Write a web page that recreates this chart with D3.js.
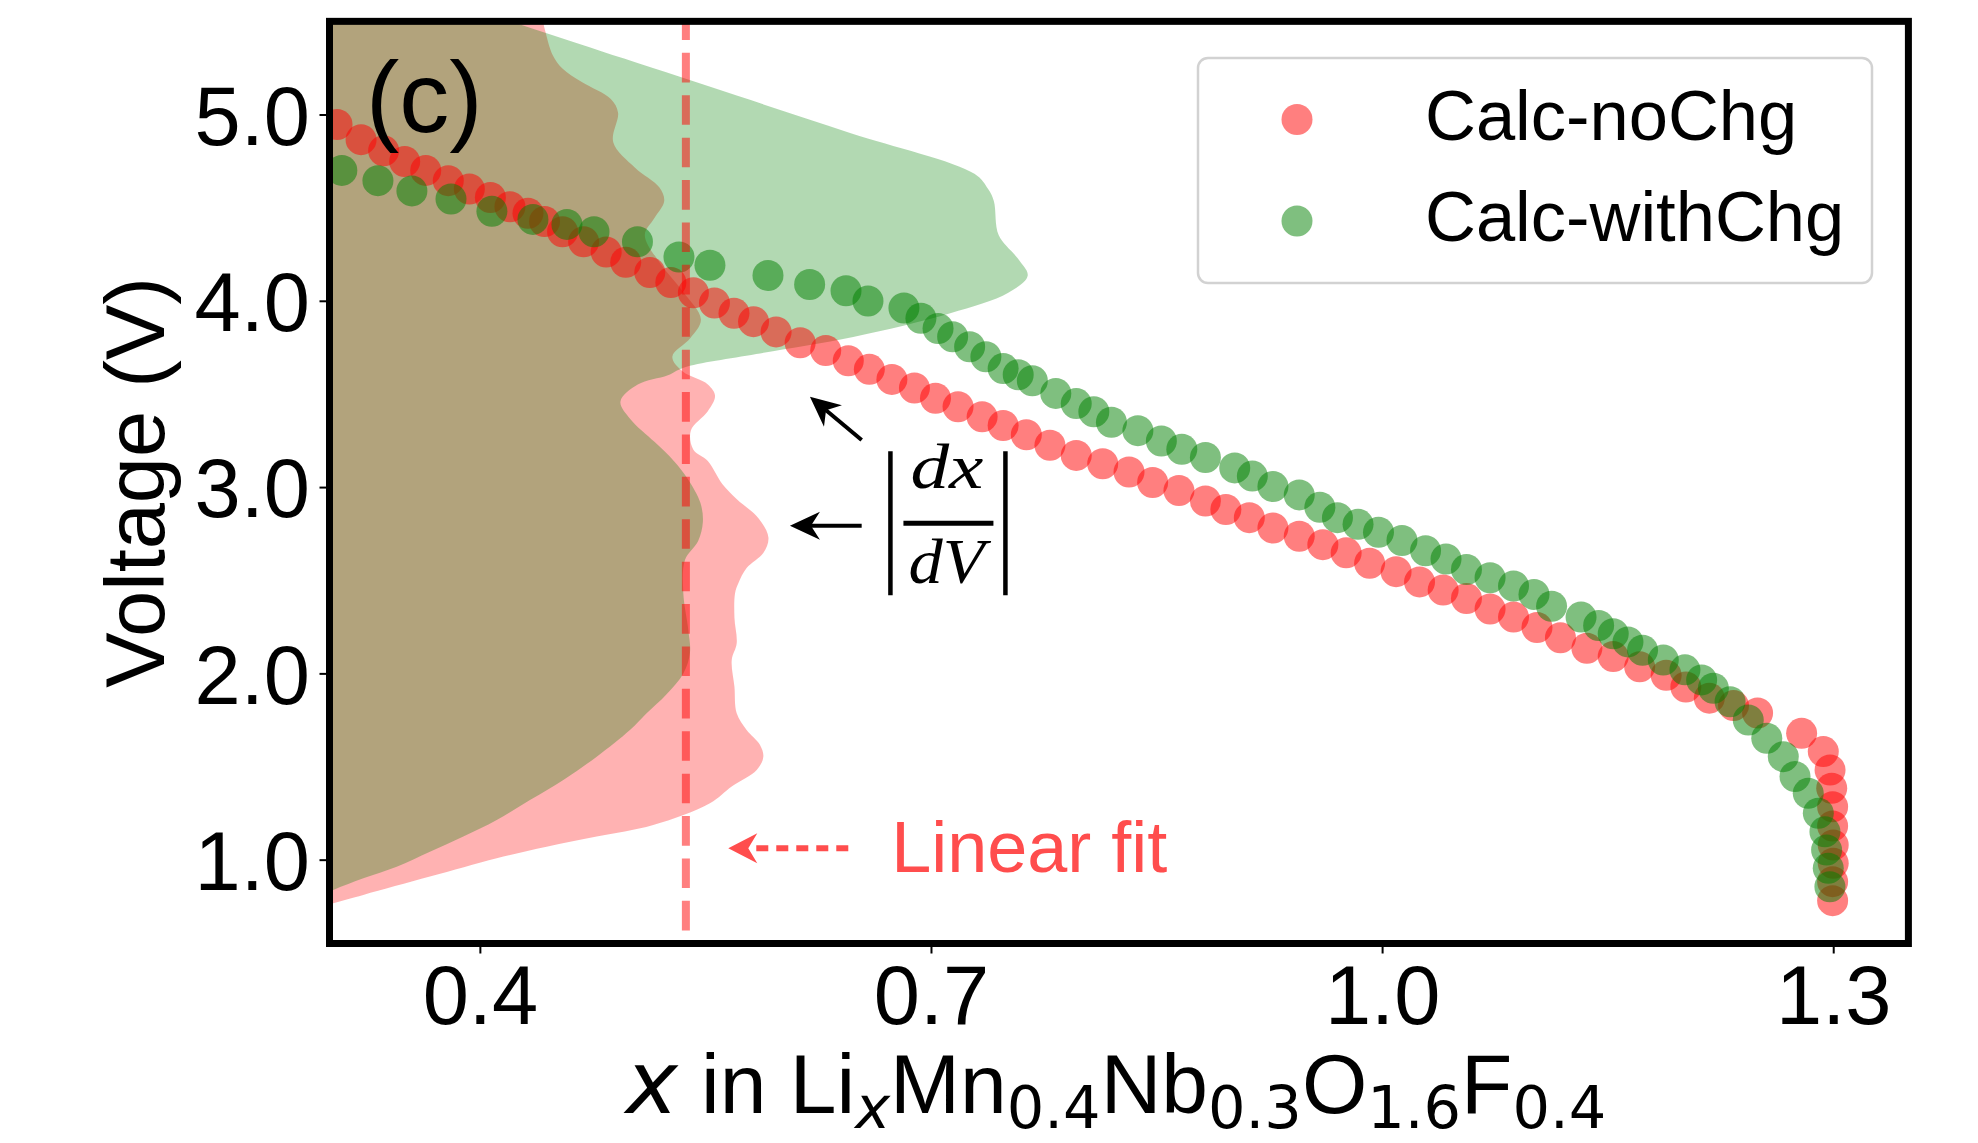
<!DOCTYPE html>
<html><head><meta charset="utf-8">
<script src="https://cdn.jsdelivr.net/npm/d3@7"></script>
<style>body{margin:0;background:#fff}svg{display:block}</style>
</head><body>
<svg id="chart" width="1978" height="1143"></svg>
<script>
// ---------------- data ----------------
const xDomain = [0.3, 1.35];
const vDomain = [0.55, 5.5];
const xTicks = [0.4, 0.7, 1.0, 1.3];
const yTicks = [1.0, 2.0, 3.0, 4.0, 5.0];
const seriesNames = ["Calc-noChg", "Calc-withChg"];

// Calc-noChg scatter (x, V)
const noChgX = [0.305,0.321,0.336,0.350,0.364,0.379,0.393,0.407,0.420,0.432,0.443,0.455,0.469,0.484,0.497,0.513,0.527,0.542,0.556,0.569,0.582,0.597,0.613,0.630,0.645,0.659,0.674,0.689,0.703,0.718,0.734,0.748,
  0.7634,0.7791,0.7966,0.8142,0.8317,0.8474,0.8649,0.8825,0.8961,0.9117,0.9274,0.9449,0.9606,0.9761,0.9917,1.0093,1.0249,1.0406,1.0561,1.0718,1.0874,1.1030,1.1186,1.1362,1.1537,1.1713,1.1889,
  1.2020,1.2176,1.2337,1.2497,1.2790,1.2934,1.2979,1.2990,1.2996,1.2996,1.3000,1.3000,1.2996,1.2996];
const noChgV = [4.946,4.865,4.805,4.748,4.700,4.645,4.600,4.554,4.505,4.470,4.426,4.371,4.317,4.262,4.207,4.152,4.098,4.043,3.988,3.933,3.888,3.833,3.775,3.733,3.678,3.632,3.578,3.532,3.477,3.431,3.377,3.331,
  3.281,3.225,3.170,3.125,3.081,3.025,2.981,2.925,2.880,2.836,2.780,2.736,2.691,2.647,2.591,2.546,2.491,2.447,2.402,2.346,2.302,2.246,2.191,2.135,2.090,2.035,1.990,
  1.927,1.867,1.827,1.787,1.678,1.580,1.481,1.383,1.284,1.181,1.079,0.981,0.882,0.780];

// Calc-withChg scatter (x, V)
const withChgX = [0.3082,0.3322,0.3548,0.3808,0.4080,0.4353,0.4579,0.4759,0.5048,0.5324,0.5530,0.5916,0.6193,0.6435,0.6581,0.6820,0.6933,0.7047,0.7144,0.7257,
  0.7365,0.7480,0.7580,0.7674,0.7830,0.7966,0.8083,0.8200,0.8376,0.8532,0.8668,0.8825,0.9020,0.9137,0.9274,0.9449,0.9586,0.9703,0.9840,0.9976,1.0132,1.0289,1.0425,1.0561,1.0718,1.0874,1.1010,1.1127,1.1323,1.1440,1.1537,1.1635,1.1732,
  1.1870,1.2014,1.2125,1.2203,1.2314,1.2435,1.2558,1.2668,1.2746,1.2834,1.2901,1.2945,1.2956,1.2967,1.2978];
const withChgV = [4.700,4.645,4.590,4.546,4.481,4.437,4.410,4.371,4.317,4.235,4.191,4.136,4.087,4.054,3.999,3.961,3.906,3.851,3.807,3.753,
  3.700,3.636,3.603,3.571,3.503,3.448,3.404,3.348,3.303,3.247,3.203,3.159,3.103,3.059,3.003,2.958,2.892,2.836,2.800,2.758,2.713,2.658,2.614,2.558,2.513,2.469,2.424,2.360,2.302,2.257,2.213,2.169,2.124,
  2.072,2.019,1.965,1.920,1.848,1.750,1.652,1.553,1.446,1.356,1.249,1.150,1.052,0.954,0.855];

// |dx/dV| profiles (right edge of the shaded areas), x position vs V
const noChgDistV = [5.60,5.503,5.454,5.32,5.247,5.174,5.083,5.010,4.851,4.714,4.609,4.536,4.444,4.353,4.20,4.05,3.90,3.80,3.70,3.62,3.551,3.490,3.407,3.304,3.202,3.140,3.017,2.935,2.832,2.730,2.647,2.565,2.484,2.430,2.298,2.162,2.072,1.928,1.786,1.696,1.616,1.553,1.481,1.394,1.303,1.186,1.124,1.070,1.008,0.909,0.811,0.766,0.70];
const noChgDistX = [0.441,0.442,0.4433,0.4484,0.4549,0.4678,0.4871,0.4919,0.4887,0.5032,0.5193,0.5226,0.5161,0.5097,0.520,0.535,0.547,0.540,0.528,0.535,0.5516,0.5564,0.5516,0.5403,0.5419,0.5516,0.5612,0.5709,0.5854,0.5919,0.5886,0.5774,0.5719,0.5697,0.5693,0.5708,0.5675,0.5693,0.5708,0.5774,0.5863,0.5885,0.5841,0.5677,0.553,0.5153,0.4777,0.4444,0.4112,0.3668,0.3225,0.3025,0.28];
const withChgDistV = [5.60,5.454,5.30,5.10,4.90,4.682,4.60,4.536,4.353,4.225,4.134,4.043,3.933,3.806,3.714,3.641,3.60,3.55,3.46,3.366,3.243,3.140,3.038,2.914,2.812,2.709,2.609,2.43,2.233,2.11,2.0,1.887,1.786,1.696,1.553,1.428,1.320,1.213,1.124,1.043,0.962,0.900,0.837,0.75];
const withChgDistX = [0.3827,0.4378,0.4959,0.5713,0.6467,0.7289,0.738,0.7418,0.745,0.7579,0.7643,0.7514,0.7128,0.6483,0.5838,0.5355,0.525,0.505,0.4935,0.500,0.5161,0.529,0.5387,0.5467,0.5483,0.5451,0.5364,0.5353,0.5386,0.5397,0.5353,0.524,0.5109,0.4998,0.4777,0.4555,0.4333,0.4112,0.389,0.3668,0.3447,0.3225,0.3025,0.28];

// linear-fit vertical line
const linearFitX = 0.537;
const linearFitV = [0.62, 5.6];

// ---------------- layout ----------------
const plot = {l: 329.5, r: 1908.4, t: 21.35, b: 943.5};
const SANS = "'Liberation Sans', Arial, Helvetica, sans-serif";
const svg = d3.select("#chart");
const x = d3.scaleLinear().domain(xDomain).range([plot.l, plot.r]);
const y = d3.scaleLinear().domain(vDomain).range([plot.b, plot.t]);

svg.append("defs").append("clipPath").attr("id", "clip")
  .append("rect").attr("x", plot.l).attr("y", plot.t)
  .attr("width", plot.r - plot.l).attr("height", plot.b - plot.t);

const g = svg.append("g").attr("clip-path", "url(#clip)");

const area = d3.area().curve(d3.curveCatmullRom.alpha(0.5))
  .y(d => y(d[1])).x0(x(0.2)).x1(d => x(d[0]));

g.append("path").datum(d3.zip(noChgDistX, noChgDistV)).attr("d", area)
  .attr("fill", "rgba(255,0,0,0.3)");
g.append("path").datum(d3.zip(withChgDistX, withChgDistV)).attr("d", area)
  .attr("fill", "rgba(0,128,0,0.3)");

const R = 15.5;
g.append("g").selectAll("circle").data(d3.zip(noChgX, noChgV)).join("circle")
  .attr("cx", d => x(d[0])).attr("cy", d => y(d[1])).attr("r", R)
  .attr("fill", "rgba(255,0,0,0.5)");
g.append("g").selectAll("circle").data(d3.zip(withChgX, withChgV)).join("circle")
  .attr("cx", d => x(d[0])).attr("cy", d => y(d[1])).attr("r", R)
  .attr("fill", "rgba(0,128,0,0.5)");

g.append("line")
  .attr("x1", x(linearFitX)).attr("x2", x(linearFitX))
  .attr("y1", y(linearFitV[0])).attr("y2", y(linearFitV[1]))
  .attr("stroke", "rgba(255,0,0,0.5)").attr("stroke-width", 8)
  .attr("stroke-dasharray", "29.6,12.8");

// ---------------- axes ----------------
const yAxis = svg.append("g").attr("transform", `translate(${plot.l},0)`)
  .call(d3.axisLeft(y).tickValues(yTicks).tickFormat(d3.format(".1f")).tickSize(10).tickPadding(9.5));
const xAxis = svg.append("g").attr("transform", `translate(0,${plot.b})`)
  .call(d3.axisBottom(x).tickValues(xTicks).tickFormat(d3.format(".1f")).tickSize(10).tickPadding(11.5));
[xAxis, yAxis].forEach(a => {
  a.select(".domain").remove();
  a.selectAll(".tick line").attr("stroke", "#000").attr("stroke-width", 2);
  a.selectAll(".tick text").attr("font-family", SANS).attr("font-size", 83).attr("fill", "#000");
});
yAxis.selectAll(".tick text").attr("dy", "0.36em");

svg.append("rect").attr("x", plot.l).attr("y", plot.t)
  .attr("width", plot.r - plot.l).attr("height", plot.b - plot.t)
  .attr("fill", "none").attr("stroke", "#000").attr("stroke-width", 7);

// axis titles
svg.append("text").attr("transform", `translate(164,${(plot.t + plot.b) / 2}) rotate(-90)`)
  .attr("text-anchor", "middle").attr("font-family", SANS).attr("font-size", 83)
  .text("Voltage (V)");

const xl = svg.append("text").attr("x", (plot.l + plot.r) / 2 - 3).attr("y", 1113)
  .attr("text-anchor", "middle").attr("font-family", SANS).attr("font-size", 84);
const SUB = 59, SHIFT = 15, DJ = "'DejaVu Sans', sans-serif";
xl.append("tspan").attr("font-family", DJ).attr("font-style", "italic").attr("font-size", 88).text("x");
xl.append("tspan").text(" in Li");
xl.append("tspan").attr("font-family", DJ).attr("font-style", "italic").attr("font-size", SUB).attr("dy", SHIFT).text("x");
xl.append("tspan").attr("dy", -SHIFT).text("Mn");
xl.append("tspan").attr("font-family", DJ).attr("font-size", SUB).attr("dy", SHIFT).text("0.4");
xl.append("tspan").attr("dy", -SHIFT).text("Nb");
xl.append("tspan").attr("font-family", DJ).attr("font-size", SUB).attr("dy", SHIFT).text("0.3");
xl.append("tspan").attr("dy", -SHIFT).text("O");
xl.append("tspan").attr("font-family", DJ).attr("font-size", SUB).attr("dy", SHIFT).text("1.6");
xl.append("tspan").attr("dy", -SHIFT).text("F");
xl.append("tspan").attr("font-family", DJ).attr("font-size", SUB).attr("dy", SHIFT).text("0.4");

// panel label
svg.append("text").attr("x", plot.l + 36.5).attr("y", 132)
  .attr("font-family", SANS).attr("font-size", 100).text("(c)");

// ---------------- legend ----------------
const lg = svg.append("g");
lg.append("rect").attr("x", 1198).attr("y", 58).attr("width", 674).attr("height", 225)
  .attr("rx", 10).attr("fill", "rgba(255,255,255,0.8)").attr("stroke", "#d2d2d2").attr("stroke-width", 2.5);
const legendColors = ["rgba(255,0,0,0.5)", "rgba(0,128,0,0.5)"];
seriesNames.forEach((name, i) => {
  const cy = 119.5 + i * 101.5;
  lg.append("circle").attr("cx", 1297).attr("cy", cy).attr("r", R).attr("fill", legendColors[i]);
  lg.append("text").attr("x", 1425).attr("y", cy + 20).attr("font-family", SANS)
    .attr("font-size", 70.5).text(name);
});

// ---------------- annotations ----------------
function arrowHead(tip, tail, len, notch, half) {
  const dx = tip[0] - tail[0], dy = tip[1] - tail[1], L = Math.hypot(dx, dy);
  const ux = dx / L, uy = dy / L, px = -uy, py = ux;
  const bx = tip[0] - ux * len, by = tip[1] - uy * len;
  const nx = tip[0] - ux * notch, ny = tip[1] - uy * notch;
  return {d: `M${tip[0]},${tip[1]}L${bx + px * half},${by + py * half}L${nx},${ny}L${bx - px * half},${by - py * half}Z`, nx, ny};
}
function arrow(tipD, tailD, color, opts) {
  const tip = [x(tipD[0]), y(tipD[1])], tail = [x(tailD[0]), y(tailD[1])];
  const h = arrowHead(tip, tail, opts.len, opts.notch, opts.half);
  const ln = svg.append("line").attr("x1", tail[0]).attr("y1", tail[1]).attr("x2", h.nx).attr("y2", h.ny)
    .attr("stroke", color).attr("stroke-width", opts.width);
  if (opts.dash) ln.attr("stroke-dasharray", opts.dash);
  svg.append("path").attr("d", h.d).attr("fill", color);
}
const blackArrow = {len: 30, notch: 21, half: 14, width: 4};
arrow([0.6195, 3.485], [0.6539, 3.253], "#000", blackArrow);
arrow([0.6062, 2.793], [0.6539, 2.793], "#000", blackArrow);

// |dx/dV|
const SERIF = "'Liberation Serif', 'DejaVu Serif', serif";
const fx = x(0.7116), fy = y(2.806);
svg.append("line").attr("x1", fx - 58).attr("x2", fx - 58).attr("y1", fy - 72).attr("y2", fy + 72)
  .attr("stroke", "#000").attr("stroke-width", 4.5);
svg.append("line").attr("x1", fx + 57).attr("x2", fx + 57).attr("y1", fy - 72).attr("y2", fy + 72)
  .attr("stroke", "#000").attr("stroke-width", 4.5);
svg.append("line").attr("x1", fx - 45).attr("x2", fx + 45).attr("y1", fy).attr("y2", fy)
  .attr("stroke", "#000").attr("stroke-width", 5);
svg.append("text").attr("x", fx - 38).attr("y", fy - 35).attr("font-family", SERIF)
  .attr("font-style", "italic").attr("font-size", 64).attr("textLength", 73)
  .attr("lengthAdjust", "spacingAndGlyphs").text("dx");
svg.append("text").attr("x", fx - 40).attr("y", fy + 60).attr("font-family", SERIF)
  .attr("font-style", "italic").attr("font-size", 64).attr("textLength", 76)
  .attr("lengthAdjust", "spacingAndGlyphs").text("dV");

// Linear fit
const fitColor = "rgb(255,77,77)";
arrow([0.5652, 1.061], [0.645, 1.061], fitColor, {len: 29, notch: 20, half: 15, width: 6, dash: "12,8"});
svg.append("text").attr("x", x(0.6735)).attr("y", y(0.9355)).attr("font-family", SANS)
  .attr("font-size", 72).attr("fill", fitColor).text("Linear fit");
</script>
</body></html>
